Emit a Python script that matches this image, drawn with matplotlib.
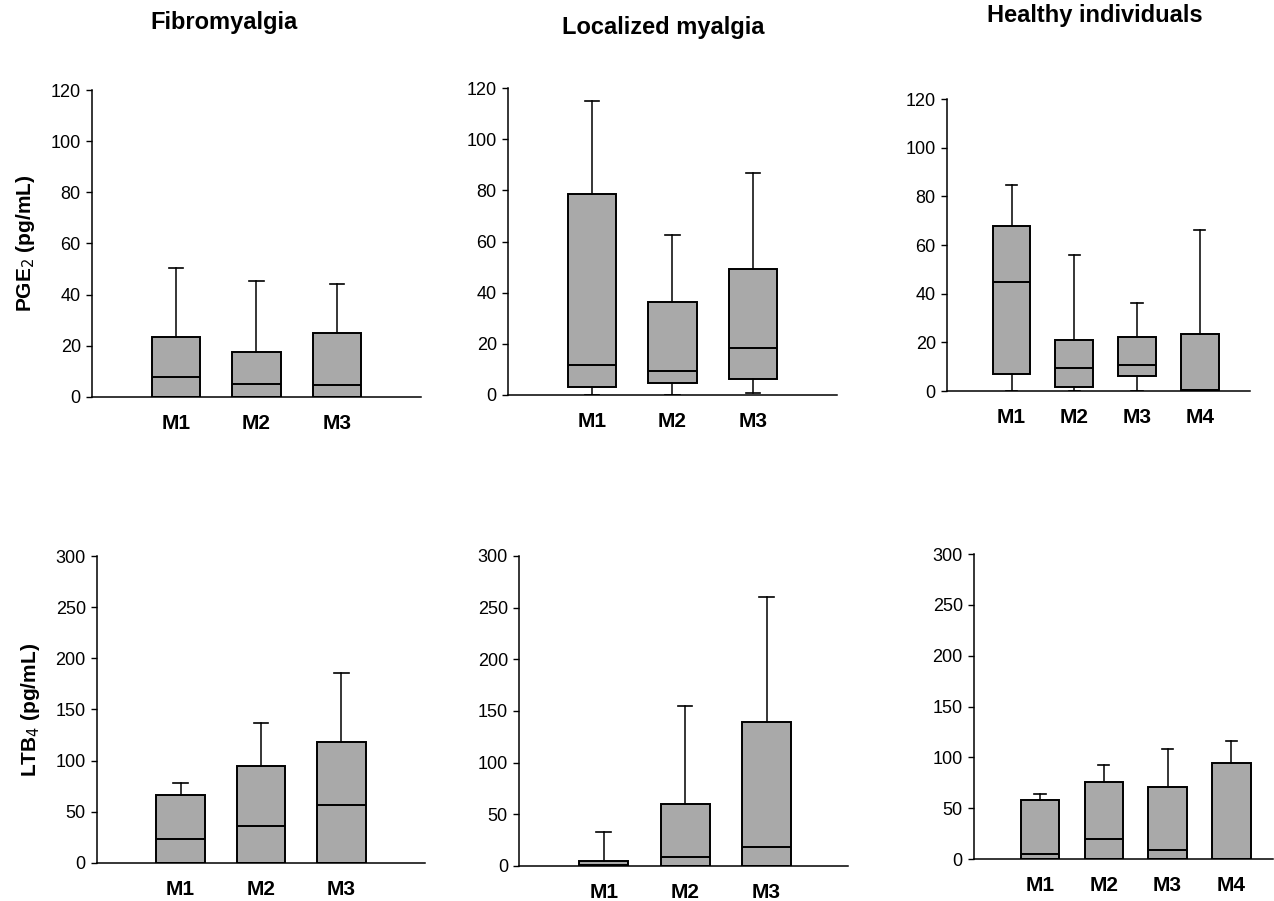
import matplotlib

matplotlib.use("Agg")
import matplotlib.pyplot as plt

plt.rcParams["font.family"] = ["Liberation Sans", "DejaVu Sans"]

GROUPS = ["Fibromyalgia", "Localized myalgia", "Healthy individuals"]

# box summaries per panel: (whislo, q1, median, q3, whishi)
PGE2_FM = {"labels": ["M1", "M2", "M3"],
           "whislo": [0, 0, 0], "q1": [0, 0, 0],
           "med": [7.7, 5.1, 4.8], "q3": [23.4, 17.6, 25.0], "whishi": [50.3, 45.2, 44.0]}
PGE2_LM = {"labels": ["M1", "M2", "M3"],
           "whislo": [0, 0, 0.7], "q1": [3.2, 4.7, 6.4],
           "med": [11.8, 9.2, 18.5], "q3": [78.5, 36.3, 49.2], "whishi": [115.0, 62.5, 86.8]}
PGE2_HI = {"labels": ["M1", "M2", "M3", "M4"],
           "whislo": [0, 0, 0, 0], "q1": [7.0, 1.6, 6.3, 0.4],
           "med": [44.9, 9.5, 10.6, 0.4], "q3": [68.0, 20.9, 22.0, 23.6], "whishi": [84.6, 56.0, 36.2, 66.3]}
LTB4_FM = {"labels": ["M1", "M2", "M3"],
           "whislo": [0, 0, 0], "q1": [0, 0, 0],
           "med": [23.0, 36.0, 57.0], "q3": [66.0, 95.0, 118.6], "whishi": [77.7, 137.0, 185.2]}
LTB4_LM = {"labels": ["M1", "M2", "M3"],
           "whislo": [0, 0, 0], "q1": [0, 0, 0],
           "med": [0.5, 8.4, 18.0], "q3": [4.8, 60.0, 139.5], "whishi": [33.2, 155.0, 260.0]}
LTB4_HI = {"labels": ["M1", "M2", "M3", "M4"],
           "whislo": [0, 0, 0, 0], "q1": [0, 0, 0, 0],
           "med": [4.9, 19.7, 9.2, 0.3], "q3": [58.4, 75.7, 71.1, 94.8], "whishi": [64.0, 92.0, 107.9, 115.7]}

PANELS = [
    (PGE2_FM, [0.0722, 0.5594, 0.2582, 0.3407], (-0.04, 4.04), 120, "PGE$_2$ (pg/mL)"),
    (PGE2_LM, [0.3987, 0.5616, 0.2582, 0.3407], (-0.04, 4.04), 120, None),
    (PGE2_HI, [0.7433, 0.5660, 0.2378, 0.3241], (-0.03, 4.8), 120, None),
    (LTB4_FM, [0.0761, 0.0422, 0.2575, 0.3407], (-0.04, 4.04), 300, "LTB$_4$ (pg/mL)"),
    (LTB4_LM, [0.4074, 0.0389, 0.2582, 0.3441], (-0.04, 4.0), 300, None),
    (LTB4_HI, [0.7645, 0.0466, 0.2347, 0.3385], (-0.03, 4.65), 300, None),
]

fig = plt.figure(figsize=(12.74, 9.01), dpi=100)

for data, rect, xlim, ymax, ylabel in PANELS:
    ax = fig.add_axes(rect)
    stats = []
    for i, lab in enumerate(data["labels"]):
        stats.append({"label": lab, "whislo": data["whislo"][i], "q1": data["q1"][i],
                      "med": data["med"][i], "q3": data["q3"][i], "whishi": data["whishi"][i]})
    ax.bxp(stats, positions=range(1, len(stats) + 1), widths=0.6, patch_artist=True,
           showfliers=False, capwidths=0.18,
           boxprops=dict(facecolor="#a9a9a9", edgecolor="black", linewidth=1.4),
           medianprops=dict(color="black", linewidth=1.4),
           whiskerprops=dict(color="black", linewidth=1.1),
           capprops=dict(color="black", linewidth=1.2))
    ax.set_xlim(*xlim)
    ax.set_ylim(0, ymax)
    ax.set_yticks(range(0, ymax + 1, 20 if ymax == 120 else 50))
    for s in ("top", "right"):
        ax.spines[s].set_visible(False)
    for s in ("left", "bottom"):
        ax.spines[s].set_linewidth(1.1)
        ax.spines[s].set_clip_on(False)
    ax.tick_params(axis="y", labelsize=13, length=4, width=1, pad=4)
    ax.tick_params(axis="x", length=0, pad=12)
    for t in ax.get_xticklabels():
        t.set_fontsize(15)
        t.set_fontweight("bold")
    if ylabel:
        ax.set_ylabel(ylabel, fontsize=15, fontweight="bold", labelpad=10)

fig.text(0.1758, 0.9745, GROUPS[0], ha="center", va="center", fontsize=17, fontweight="bold")
fig.text(0.5204, 0.969, GROUPS[1], ha="center", va="center", fontsize=17, fontweight="bold")
fig.text(0.8595, 0.983, GROUPS[2], ha="center", va="center", fontsize=17, fontweight="bold")

fig.savefig("out.png", dpi=100)
